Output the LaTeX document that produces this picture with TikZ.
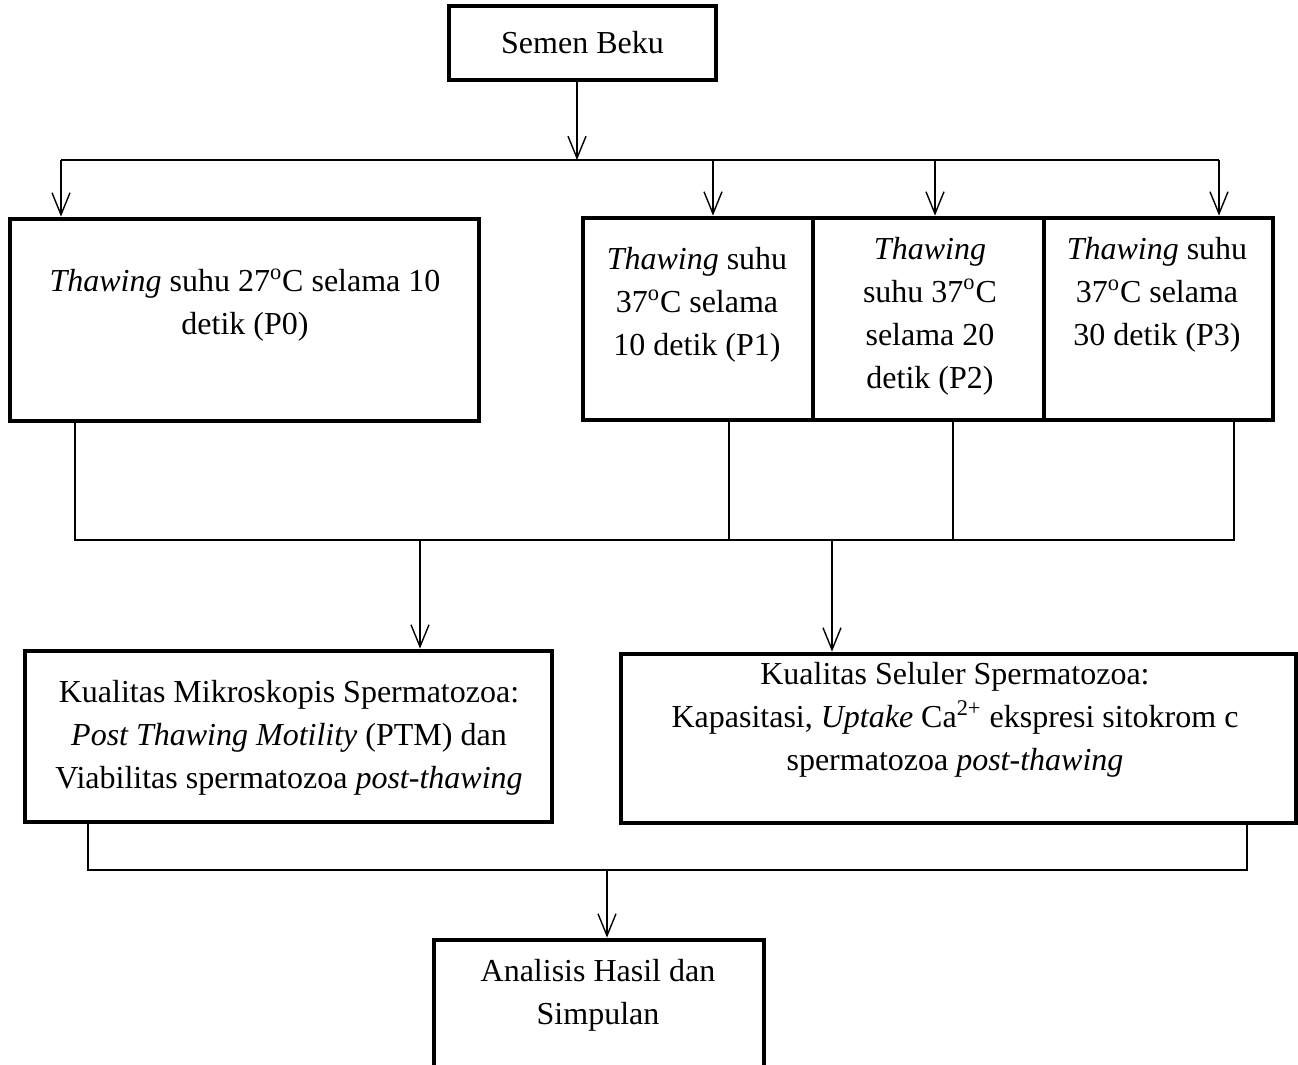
\documentclass[tikz,border=0pt]{standalone}
\usepackage{fontspec}
\setmainfont{Liberation Serif}
\usetikzlibrary{arrows.meta}
\begin{document}
\begin{tikzpicture}[x=0.5pt,y=-0.5pt,
  box/.style={draw,line width=2.4pt,rectangle,inner sep=0pt},
  conn/.style={line width=0.7pt},
  arr/.style={conn,-{Straight Barb[length=11pt,width=9pt,line width=0.7pt]}},
  txt/.style={font=\fontsize{16}{21.5}\selectfont,align=center,inner sep=0pt}]
\useasboundingbox (0,0) rectangle (1298,1065);
\clip (0,0) rectangle (1298,1065);
% boxes
\node[box,txt,minimum width=133.5pt,minimum height=37pt] (semen) at (582.5,43) {Semen Beku};
\node[box,minimum width=234.5pt,minimum height=101pt] (p0) at (244.5,320) {};
\node[box,minimum width=115pt,minimum height=101pt] (p1) at (698,319) {};
\node[box,minimum width=115.5pt,minimum height=101pt] (p2) at (928.5,319) {};
\node[box,minimum width=114.5pt,minimum height=101pt] (p3) at (1158.5,319) {};
\node[box,minimum width=263.5pt,minimum height=85.5pt] (lq) at (288.5,736.5) {};
\node[box,minimum width=337.5pt,minimum height=84.5pt] (rq) at (958.5,738.5) {};
\node[box,minimum width=165pt,minimum height=80pt] (fin) at (599,1020) {};
% coordinates
\coordinate (j1) at (577,160);
\coordinate (a0) at (61,160);
\coordinate (a1) at (713,160);
\coordinate (a2) at (935,160);
\coordinate (a3) at (1219,160);
\coordinate (b0) at (75,540);
\coordinate (b1) at (729,540);
\coordinate (b2) at (953,540);
\coordinate (b3) at (1234,540);
\coordinate (c1) at (420,540);
\coordinate (c2) at (832,540);
\coordinate (d0) at (88,870);
\coordinate (d1) at (1247,870);
\coordinate (d2) at (607,870);
% connectors
\draw[arr] (semen.south -| j1) -- (j1);
\draw[conn] (a0) -- (a3);
\draw[arr] (a0) -- (a0 |- p0.north);
\draw[arr] (a1) -- (a1 |- p1.north);
\draw[arr] (a2) -- (a2 |- p2.north);
\draw[arr] (a3) -- (a3 |- p3.north);
\draw[conn] (b0 |- p0.south) -- (b0) -- (b3) -- (b3 |- p3.south);
\draw[conn] (b1 |- p1.south) -- (b1);
\draw[conn] (b2 |- p2.south) -- (b2);
\draw[arr] (c1) -- (c1 |- lq.north);
\draw[arr] (c2) -- (c2 |- rq.north);
\draw[conn] (d0 |- lq.south) -- (d0) -- (d1) -- (d1 |- rq.south);
\draw[arr] (d2) -- (d2 |- fin.north);
% texts
\node[txt] (t0) at (245,305) {\textit{Thawing} suhu 27\textsuperscript{o}C selama 10\\detik (P0)};
\node[txt] (t1) at (697,305) {\textit{Thawing} suhu\\37\textsuperscript{o}C selama\\10 detik (P1)};
\node[txt] (t2) at (930,316) {\textit{Thawing}\\suhu 37\textsuperscript{o}C\\selama 20\\detik (P2)};
\node[txt] (t3) at (1157,295) {\textit{Thawing} suhu\\37\textsuperscript{o}C selama\\30 detik (P3)};
\node[txt] (tl) at (289,738) {Kualitas Mikroskopis Spermatozoa:\\\textit{Post Thawing Motility} (PTM) dan\\Viabilitas spermatozoa \textit{post-thawing}};
\node[txt] (tr) at (955,720) {Kualitas Seluler Spermatozoa:\\Kapasitasi, \textit{Uptake} Ca\textsuperscript{2+} ekspresi sitokrom c\\spermatozoa \textit{post-thawing}};
\node[txt] (tf) at (598,995) {Analisis Hasil dan\\Simpulan};
\end{tikzpicture}
\end{document}
